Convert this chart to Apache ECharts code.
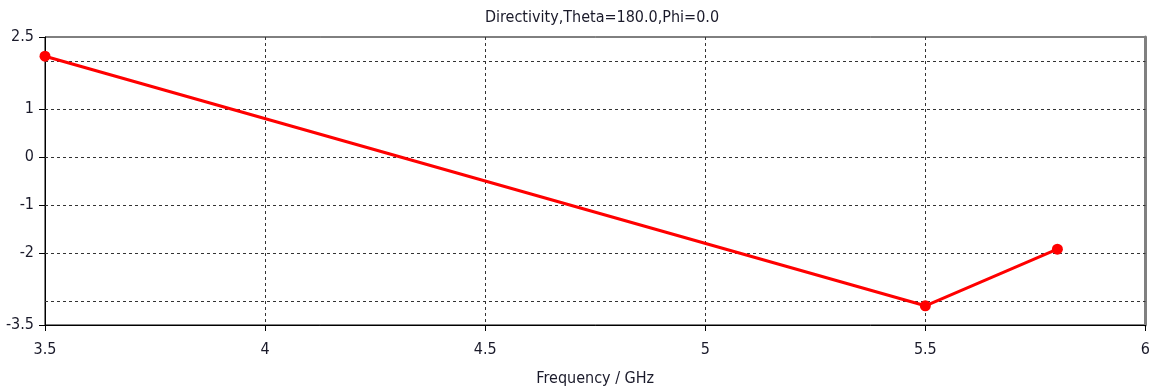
<!DOCTYPE html>
<html><head><meta charset="utf-8">
<script src="https://cdn.jsdelivr.net/npm/echarts@6/dist/echarts.min.js"></script>
<style>html,body{margin:0;padding:0;background:#fff}#c{width:1153px;height:392px}</style>
</head><body><div id="c"></div>
<script>
const freq = [3.5, 5.5, 5.8];
const directivity = [2.1, -3.1, -1.92];
const yLabelValues = [-3.5, -2, -1, 0, 1, 2.5];
const yGridValues = [2, 1, 0, -1, -2, -3];
const title = 'Directivity,Theta=180.0,Phi=0.0';
const xName = 'Frequency / GHz';

const font = '"DejaVu Sans Condensed", "DejaVu Sans", sans-serif';
const txt = '#1a1a2a';
const grid = '#333';
const chart = echarts.init(document.getElementById('c'));
chart.setOption({
  animation: false,
  title: { text: title, left: 597, top: 5, textAlign: 'center',
    textStyle: { fontFamily: font, fontSize: 16, fontWeight: 'normal', color: txt } },
  grid: { left: 45, right: 4, top: 37, bottom: 66, show: true, borderColor: '#000', borderWidth: 1 },
  xAxis: {
    type: 'value', min: 3.5, max: 6, interval: 0.5,
    name: xName, nameLocation: 'middle', nameGap: 46,
    nameTextStyle: { fontFamily: font, fontSize: 16, color: txt },
    axisLine: { show: true, onZero: false, lineStyle: { color: '#000', width: 1 } },
    axisTick: { show: true, length: 6, lineStyle: { color: '#000' } },
    axisLabel: { fontFamily: font, fontSize: 16, color: txt, margin: 17 },
    splitLine: { show: true, lineStyle: { color: grid, type: [3, 3], width: 1 } }
  },
  yAxis: [{
    type: 'value', min: -3.5, max: 2.5,
    axisLine: { show: true, onZero: false, lineStyle: { color: '#000', width: 1 } },
    axisTick: { show: true, length: 6, customValues: yLabelValues, lineStyle: { color: '#000' } },
    axisLabel: { fontFamily: font, fontSize: 16, color: txt, margin: 11, customValues: yLabelValues },
    splitLine: { show: false }
  }, {
    type: 'value', min: -3.5, max: 2.5, position: 'right',
    axisLine: { show: true, onZero: false, lineStyle: { color: '#808080', width: 3 } },
    axisTick: { show: false }, axisLabel: { show: false }, splitLine: { show: false }
  }],
  series: [{
    type: 'line', yAxisIndex: 0,
    data: freq.map((f, i) => [f, directivity[i]]),
    lineStyle: { color: '#ff0000', width: 3 },
    itemStyle: { color: '#ff0000' },
    symbol: 'circle', symbolSize: 11,
    markLine: {
      silent: true, symbol: 'none', label: { show: false },
      lineStyle: { color: grid, type: [3, 3], width: 1 },
      data: yGridValues.map(v => ({ yAxis: v }))
    },
    z: 5
  }]
});
</script></body></html>
